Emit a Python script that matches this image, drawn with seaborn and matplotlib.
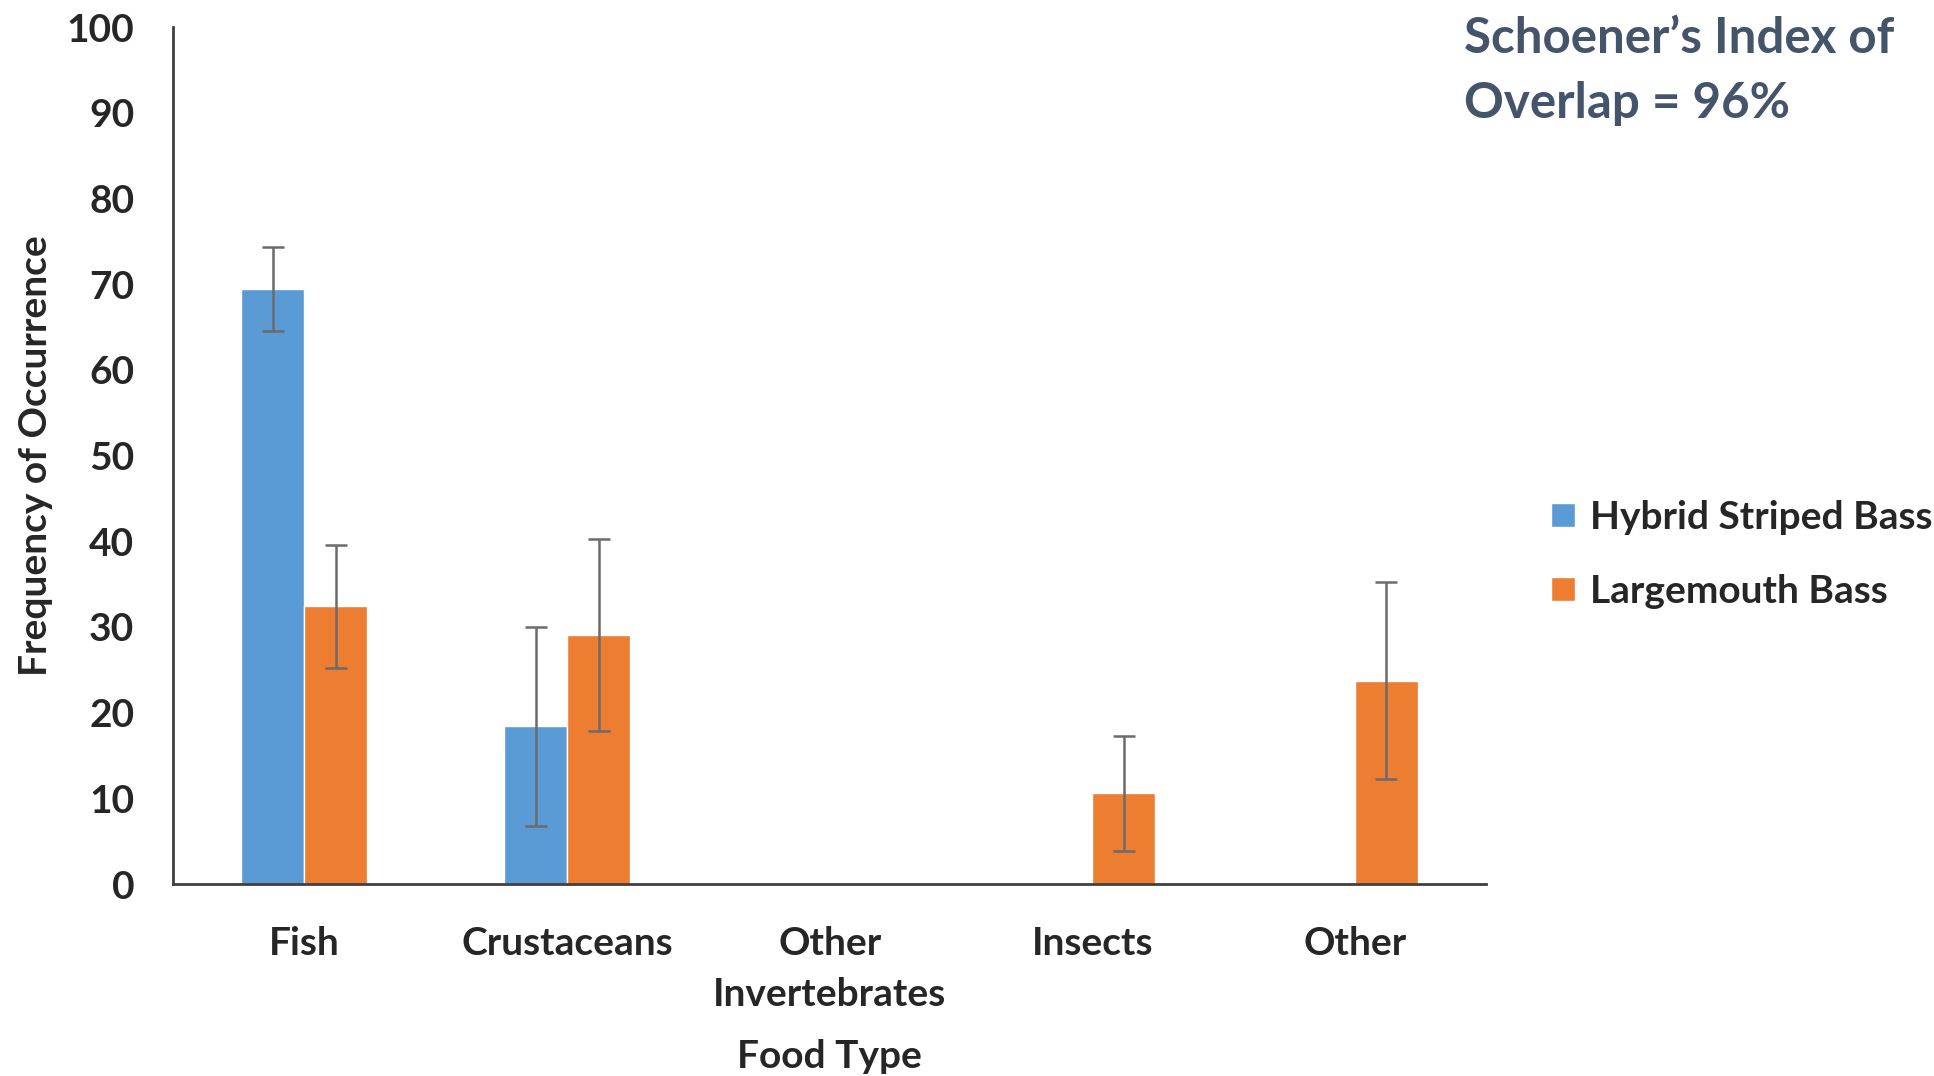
import numpy as np
import pandas as pd
import seaborn as sns
import matplotlib.pyplot as plt

# values
food_types = ['Fish', 'Crustaceans', 'Other\nInvertebrates', 'Insects', 'Other']
species = ['Hybrid Striped Bass', 'Largemouth Bass']
hybrid_freq = [69.4, 18.4, 0, 0, 0]
hybrid_err = [4.9, 11.6, np.nan, np.nan, np.nan]
largemouth_freq = [32.4, 29.1, 0, 10.6, 23.7]
largemouth_err = [7.2, 11.2, np.nan, 6.7, 11.5]
y_ticks = [0, 10, 20, 30, 40, 50, 60, 70, 80, 90, 100]

colors = ['#5B9BD5', '#ED7D31']

df = pd.DataFrame({
    'Food Type': food_types * 2,
    'Species': [species[0]] * len(food_types) + [species[1]] * len(food_types),
    'Frequency': hybrid_freq + largemouth_freq,
})

sns.set_style('white')
plt.rcParams['font.family'] = ['Lato', 'DejaVu Sans']
plt.rcParams['font.weight'] = 'bold'

fig = plt.figure(figsize=(19.34, 10.76), dpi=100)
ax = fig.add_axes([0.0895, 0.1784, 0.679, 0.7965])

sns.barplot(data=df, x='Food Type', y='Frequency', hue='Species',
            order=food_types, hue_order=species, palette=colors,
            width=0.48, gap=0, errorbar=None, ax=ax, saturation=1)

# error bars
for cont, errs in zip(ax.containers, [hybrid_err, largemouth_err]):
    for bar, e in zip(cont, errs):
        if np.isnan(e):
            continue
        ax.errorbar(bar.get_x() + bar.get_width() / 2, bar.get_height(), yerr=e,
                    fmt='none', ecolor='#6b6b6b', elinewidth=1.8, capsize=8,
                    capthick=1.8)

ax.set_xlim(-0.5, len(food_types) - 0.5)
ax.set_ylim(0, 100)
ax.set_yticks(y_ticks)
ax.tick_params(axis='y', length=0, labelsize=28, pad=28)
ax.tick_params(axis='x', length=0, labelsize=28, pad=30)
for lbl in ax.get_xticklabels():
    lbl.set_linespacing(1.55)
    lbl.set_verticalalignment('top')

for s in ['top', 'right']:
    ax.spines[s].set_visible(False)
for s in ['left', 'bottom']:
    ax.spines[s].set_color('#404040')
    ax.spines[s].set_linewidth(2)

ax.set_xlabel('Food Type', fontsize=28, fontweight='bold', labelpad=20)
ax.set_ylabel('Frequency of Occurrence', fontsize=28, fontweight='bold', labelpad=10)

sns.move_legend(ax, 'center left', bbox_to_anchor=(0.784, 0.485),
                bbox_transform=fig.transFigure, frameon=False, title=None,
                fontsize=28, handlelength=0.6, handleheight=0.6,
                handletextpad=0.4, labelspacing=1.0)

fig.text(0.757, 0.985, 'Schoener\u2019s Index of\nOverlap = 96%', fontsize=35.5,
         fontweight='bold', color='#44546A', ha='left', va='top', linespacing=1.55)

fig.savefig('out.png', dpi=100)
